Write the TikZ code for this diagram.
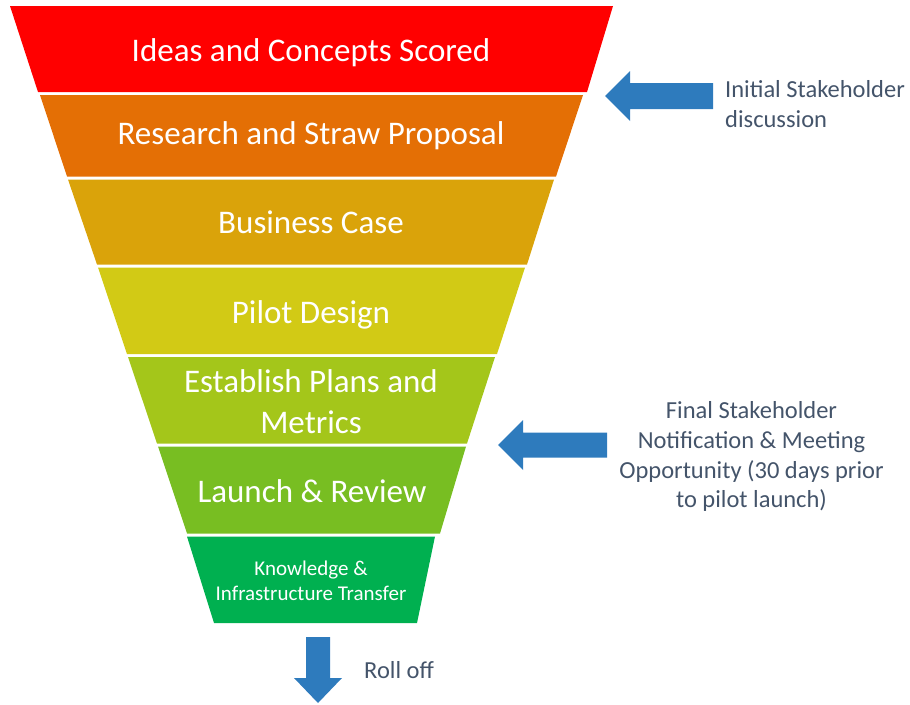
\documentclass[tikz,border=0pt]{standalone}
\usepackage{fontspec}
\setmainfont{Carlito}
\definecolor{cA}{HTML}{FF0000}
\definecolor{cB}{HTML}{E46F05}
\definecolor{cC}{HTML}{DAA30A}
\definecolor{cD}{HTML}{D2CA15}
\definecolor{cE}{HTML}{A4C61A}
\definecolor{cF}{HTML}{78BE22}
\definecolor{cG}{HTML}{00B050}
\definecolor{arrowblue}{HTML}{2E7BBD}
\definecolor{sidegray}{HTML}{44546A}
\begin{document}
\begin{tikzpicture}[x=1pt,y=-1pt,
  layertext/.style={text=white,anchor=base,inner sep=0pt,font=\fontsize{33}{40}\selectfont},
  smalllayertext/.style={text=white,anchor=base,inner sep=0pt,font=\fontsize{21}{25}\selectfont},
  sidetext/.style={text=sidegray,anchor=base,inner sep=0pt,font=\fontsize{24.5}{29.5}\selectfont},
  blockarrow/.style={fill=arrowblue}]
\useasboundingbox (0,0) rectangle (910,704);
% funnel layers
\fill[cA] (10,6) -- (613,6) -- (587,92) -- (38,92) -- cycle;
\fill[cB] (40,95) -- (583,95) -- (556,176.5) -- (67,176.5) -- cycle;
\fill[cC] (68,179.5) -- (554,179.5) -- (527,264.5) -- (97,264.5) -- cycle;
\fill[cD] (98,267.5) -- (525,267.5) -- (497,354) -- (127,354) -- cycle;
\fill[cE] (128,357) -- (495,357) -- (467,443.5) -- (157,443.5) -- cycle;
\fill[cF] (158,446.5) -- (466,446.5) -- (440,533.5) -- (187,533.5) -- cycle;
\fill[cG] (187,536.5) -- (435,536.5) -- (417,623) -- (214,623) -- cycle;
% layer texts
\node[layertext] (t1) at (311,61) {Ideas and Concepts Scored};
\node[layertext] (t2) at (311,144) {Research and Straw Proposal};
\node[layertext] (t3) at (311,233) {Business Case};
\node[layertext] (t4) at (311,323) {Pilot Design};
\node[layertext] (t5a) at (311,392) {Establish Plans and};
\node[layertext] (t5b) at (311,433) {Metrics};
\node[layertext] (t6) at (312,502) {Launch \& Review};
\node[smalllayertext] (t7a) at (311,575) {Knowledge \&};
\node[smalllayertext] (t7b) at (311,600) {Infrastructure Transfer};
% block arrows
\fill[blockarrow] (605,96) -- (630,71) -- (630,83) -- (713,83) -- (713,109) -- (630,109) -- (630,121) -- cycle;
\fill[blockarrow] (498,445) -- (523,420) -- (523,432.5) -- (607,432.5) -- (607,457.5) -- (523,457.5) -- (523,470) -- cycle;
\fill[blockarrow] (318,703) -- (294,678) -- (306,678) -- (306,637) -- (330,637) -- (330,678) -- (342,678) -- cycle;
% side texts
\node[sidetext,anchor=base west] (s1a) at (725,97) {Initial Stakeholder};
\node[sidetext,anchor=base west] (s1b) at (725,127) {discussion};
\node[sidetext] (s2a) at (751.5,418) {Final Stakeholder};
\node[sidetext] (s2b) at (751.5,448) {Notification \& Meeting};
\node[sidetext] (s2c) at (751.5,478) {Opportunity (30 days prior};
\node[sidetext] (s2d) at (751.5,507) {to pilot launch)};
\node[sidetext,anchor=base west] (roll) at (364,678) {Roll off};
\end{tikzpicture}
\end{document}
